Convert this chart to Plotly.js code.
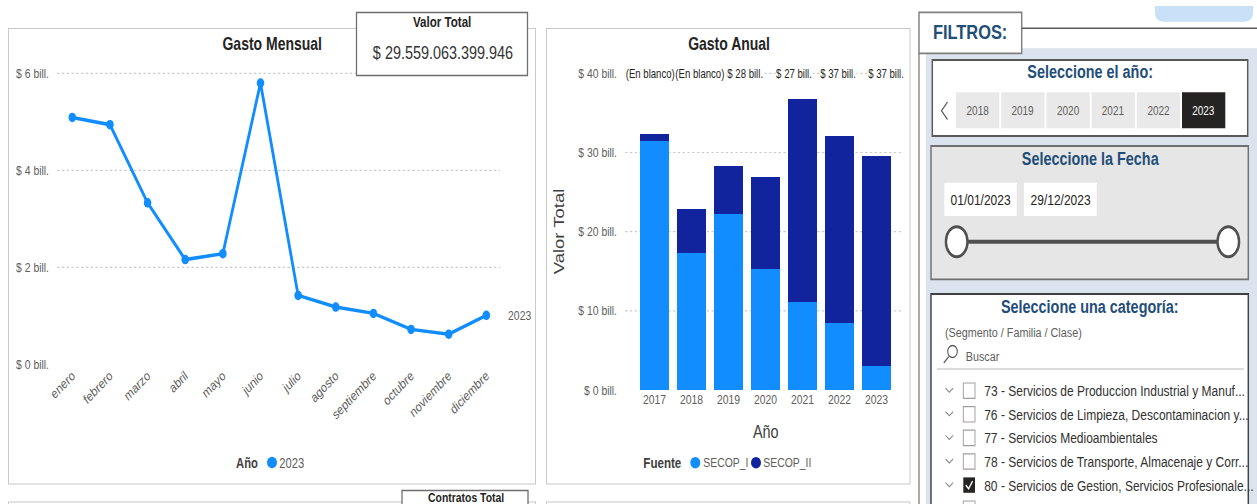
<!DOCTYPE html>
<html>
<head>
<meta charset="utf-8">
<script src="https://cdn.plot.ly/plotly-3.0.1.min.js"></script>
<style>
html,body{margin:0;padding:0;background:#fff;overflow:hidden;width:1257px;height:504px;}
#chart{height:504px;transform-origin:0 0;}
</style>
</head>
<body>
<div id="chart"></div>
<script>
// ---------- DATA ----------
const months = ['enero','febrero','marzo','abril','mayo','junio','julio','agosto','septiembre','octubre','noviembre','diciembre'];
const gastoMensual = [5.09,4.94,3.33,2.16,2.28,5.80,1.42,1.18,1.05,0.72,0.62,1.01]; // billones
const mensualTicks = [0,2,4,6];
const mensualTickText = ['$ 0 bill.','$ 2 bill.','$ 4 bill.','$ 6 bill.'];
const serieMensual = '2023';

const years = ['2017','2018','2019','2020','2021','2022','2023'];
const secopI  = [31.49,17.26,22.19,15.28,11.16,8.42,3.07];
const secopII = [0.80,5.56,6.06,11.58,25.55,23.66,26.49];
const anualTicks = [0,10,20,30,40];
const anualTickText = ['$ 0 bill.','$ 10 bill.','$ 20 bill.','$ 30 bill.','$ 40 bill.'];
const topLabels = ['(En blanco)','(En blanco)','$ 28 bill.','$ 27 bill.','$ 37 bill.','$ 37 bill.'];

const valorTotal = '$ 29.559.063.399.946';
const yearButtons = ['2018','2019','2020','2021','2022','2023'];
const selectedYear = '2023';
const fechaInicio = '01/01/2023';
const fechaFin = '29/12/2023';
const categorias = [
  '73 - Servicios de Produccion Industrial y Manuf...',
  '76 - Servicios de Limpieza, Descontaminacion y...',
  '77 - Servicios Medioambientales',
  '78 - Servicios de Transporte, Almacenaje y Corr...',
  '80 - Servicios de Gestion, Servicios Profesionale...'
];
const categoriaMarcada = [false,false,false,false,true];

// ---------- HELPERS ----------
const W = 1257, H = 504;
const RW = 1571;            // rendering width, squeezed horizontally to W
const S = W / RW;
const chartDiv = document.getElementById('chart');
chartDiv.style.width = RW + 'px';
chartDiv.style.transform = 'scaleX(' + S + ')';

const X = p => p / W;
const Y = p => 1 - p / H;
const FONT = "'Liberation Sans', Arial, sans-serif";
const DARK = '#252423', GRAY = '#605E5C', BLUE1 = '#118DFF', BLUE2 = '#12239E', TITLEBLUE = '#1F4E79';

const shapes = [];
const annotations = [];
function rect(x0,y0,x1,y1,fill,line,lw,layer){
  shapes.push({type:'rect',xref:'paper',yref:'paper',x0:X(x0),x1:X(x1),y0:Y(y1),y1:Y(y0),
    fillcolor:fill||'rgba(0,0,0,0)',line:{color:line||'rgba(0,0,0,0)',width:line?(lw||1):0},layer:layer||'above'});
}
function seg(x0,y0,x1,y1,color,lw){
  shapes.push({type:'line',xref:'paper',yref:'paper',x0:X(x0),x1:X(x1),y0:Y(y0),y1:Y(y1),line:{color:color,width:lw||1},layer:'above'});
}
function ell(cx,cy,rx,ry,fill,line,lw){
  shapes.push({type:'circle',xref:'paper',yref:'paper',x0:X(cx-rx),x1:X(cx+rx),y0:Y(cy+ry),y1:Y(cy-ry),
    fillcolor:fill,line:{color:line||'rgba(0,0,0,0)',width:line?(lw||1):0},layer:'above'});
}
function path(pts,color,lw,fill){
  let d = '';
  pts.forEach((p,i)=>{ d += (i===0?'M ':' L ') + X(p[0]) + ',' + Y(p[1]); });
  if(fill) d += ' Z';
  shapes.push({type:'path',xref:'paper',yref:'paper',path:d,line:{color:color,width:lw||1},fillcolor:fill||'rgba(0,0,0,0)',layer:'above'});
}
function ann(text,x,y,size,color,opt){
  opt = opt || {};
  annotations.push(Object.assign({text:text,xref:'paper',yref:'paper',x:X(x),y:Y(y),showarrow:false,
    xanchor:'center',yanchor:'middle',font:{family:FONT,size:size,color:color}},opt));
}

// ---------- PANELS ----------
rect(8.5,28.5,535.5,484,'#ffffff','#C8C8C8',1.2,'below');
rect(546.5,28.5,910,484,'#ffffff','#C8C8C8',1.2,'below');
rect(8.5,502,535.5,530,'#ffffff','#C8C8C8',1.2,'below');
rect(546.5,502,910,530,'#ffffff','#C8C8C8',1.2,'below');
// Valor total card
rect(356.5,12.5,527.5,75.5,'#ffffff','#6E6E6E',1.6,'above');
ann('<b>Valor Total</b>',442,22,14.5,DARK);
ann(valorTotal,443,53,18,'#333333');
// Contratos total card (cut at bottom)
rect(402,490.5,528,530,'#ffffff','#6E6E6E',1.6,'above');
ann('<b>Contratos Total</b>',466,497,13,DARK,{borderpad:0});

// Titles
ann('<b>Gasto Mensual</b>',272,44,17.5,DARK);
ann('<b>Gasto Anual</b>',729,44,17.5,DARK);

// line chart end label (tied to data)
annotations.push({text:serieMensual,xref:'x',yref:'y',x:months[months.length-1],y:gastoMensual[gastoMensual.length-1],
  showarrow:false,xanchor:'left',yanchor:'middle',xshift:20/S,font:{family:FONT,size:13,color:GRAY}});

// line legend
ann('<b>Año</b>',259,462.5,14,'#404040',{xanchor:'right'});
ell(272,462.5,5,5.8,BLUE1);
ann(serieMensual,278,462.5,14,GRAY,{xanchor:'left'});

// bar chart extras
ann('Valor Total',559,231.7,18.5,'#404040',{textangle:-90});
ann('Año',766,432,18,'#404040');
ann('<b>Fuente</b>',683,462.7,14.5,'#404040',{xanchor:'right'});
ell(695.3,462.7,5,5.8,BLUE1);
ann('SECOP_I',701.7,462.7,13,GRAY,{xanchor:'left'});
ell(756,462.7,5,5.8,BLUE2);
ann('SECOP_II',761.7,462.7,13,GRAY,{xanchor:'left'});
const topLabelX = [650.5,699.5,745.7,794.5,838.3,885.8];
topLabels.forEach((t,i)=> ann(t,topLabelX[i],73.5,12,DARK,{bgcolor:'#ffffff',borderpad:0}));

// ---------- FILTER PANEL ----------
rect(926,48.3,1257,530,'#DAE3EE',null);
seg(919,53,919,504,'#8A8A8A',1.8);
rect(919,12.3,1021.7,53.3,'#ffffff','#7F7F7F',1.8);
seg(1021.7,28.3,1257,28.3,'#595959',1.5);
ann('<b>FILTROS:</b>',970.3,31.7,20.5,TITLEBLUE);
// top-right pill
shapes.push({type:'path',xref:'paper',yref:'paper',layer:'above',line:{width:0,color:'rgba(0,0,0,0)'},fillcolor:'#C8E0F8',
  path:`M ${X(1155)},${Y(6)} L ${X(1155)},${Y(13)} Q ${X(1155)},${Y(21.7)} ${X(1165)},${Y(21.7)} L ${X(1243)},${Y(21.7)} Q ${X(1253)},${Y(21.7)} ${X(1253)},${Y(13)} L ${X(1253)},${Y(6)} Z`});

// box 1: year slicer
rect(932.3,60,1247.7,136,'#ffffff','#595959',1.8);
ann('<b>Seleccione el año:</b>',1090.5,72.5,18,TITLEBLUE);
path([[947.5,102],[941.5,110.7],[947.5,119.5]],'#605E5C',1.4);
yearButtons.forEach((yb,i)=>{
  const x0 = 956 + i*45.2, x1 = x0 + 43.3;
  const sel = yb === selectedYear;
  rect(x0,92.3,x1,128.3,sel?'#252423':'#E9E9E9',null);
  ann(yb,(x0+x1)/2,110.5,12.5,sel?'#ffffff':GRAY);
});

// box 2: date slicer
rect(931,146,1248.3,279.3,'#E6E6E6','#707070',1.8);
ann('<b>Seleccione la Fecha</b>',1090.3,158.5,18,TITLEBLUE);
rect(944.3,182.7,1016.7,216,'#ffffff',null);
rect(1024,182.7,1096.7,216,'#ffffff',null);
ann(fechaInicio,980.5,199.5,15,DARK);
ann(fechaFin,1060.3,199.5,15,DARK);
seg(957,241.7,1228,241.7,'#505050',4);
ell(956.7,241.7,10.8,15,'#ffffff','#505050',3);
ell(1228.3,241.7,10.8,15,'#ffffff','#505050',3);

// box 3: category slicer
rect(931,294,1248.3,530,'#ffffff','#404040',1.8);
ann('<b>Seleccione una categoría:</b>',1090,307,18,TITLEBLUE);
ann('(Segmento / Familia / Clase)',943.3,332.3,13.5,GRAY,{xanchor:'left'});
ell(952.5,351.5,4.8,6,'rgba(0,0,0,0)','#605E5C',1.4);
seg(948.8,356.5,943.8,363,'#605E5C',1.5);
ann('Buscar',964.3,356.7,13.5,GRAY,{xanchor:'left'});
seg(936.7,369,1244,369,'#D0D0D0',1.5);
categorias.forEach((c,i)=>{
  const cy = 390.7 + i*23.6;
  path([[945.5,cy-2.5],[949.3,cy+1.5],[953.1,cy-2.5]],'#8A8886',1.2);
  if(categoriaMarcada[i]){
    rect(963.3,cy-7.7,975,cy+7.7,'#252423',null);
    path([[965.8,cy],[968.6,cy+3.6],[972.6,cy-4]],'#ffffff',1.6);
  } else {
    rect(963.3,cy-7.7,975,cy+7.7,'#ffffff','#A19F9D',1.2);
  }
  ann(c,982.3,cy,15,'#323130',{xanchor:'left'});
});
// next row, cut by the bottom edge
path([[945.5,390.7+5*23.6-2.5],[949.3,390.7+5*23.6+1.5],[953.1,390.7+5*23.6-2.5]],'#8A8886',1.2);
rect(963.3,390.7+5*23.6-7.7,975,390.7+5*23.6+7.7,'#ffffff','#A19F9D',1.2);

// ---------- TRACES ----------
const data = [
  {type:'scatter',x:months,y:gastoMensual,mode:'lines+markers',name:serieMensual,
   line:{color:BLUE1,width:3.5},marker:{color:BLUE1,size:9.5},cliponaxis:false,
   xaxis:'x',yaxis:'y',showlegend:false,hoverinfo:'skip'},
  {type:'bar',x:years,y:secopI,name:'SECOP_I',marker:{color:BLUE1,line:{width:0}},
   xaxis:'x2',yaxis:'y2',showlegend:false,hoverinfo:'skip'},
  {type:'bar',x:years,y:secopII,name:'SECOP_II',marker:{color:BLUE2,line:{width:0}},
   xaxis:'x2',yaxis:'y2',showlegend:false,hoverinfo:'skip'}
];

const tickFont = {family:FONT,size:13,color:GRAY};
const layout = {
  width:RW,height:H,margin:{l:0,r:0,t:0,b:0},
  paper_bgcolor:'#ffffff',plot_bgcolor:'rgba(0,0,0,0)',
  showlegend:false,barmode:'stack',bargap:0.218,
  xaxis:{domain:[X(57),X(500)],type:'category',categoryorder:'array',categoryarray:months,
    range:[-0.406,11.363],tickangle:-40,tickfont:{family:FONT,size:13.5,color:GRAY},showgrid:false,zeroline:false,showline:false,ticks:'',anchor:'y',fixedrange:true},
  yaxis:{domain:[Y(364.3),Y(64)],range:[0,(364.3-64)/48.5],tickvals:mensualTicks,ticktext:mensualTickText,
    tickfont:tickFont,showgrid:true,gridcolor:'#CCCCCC',griddash:'dot',gridwidth:1.2,zeroline:false,showline:false,ticks:'',
    ticklabelstandoff:9,anchor:'x',fixedrange:true},
  xaxis2:{domain:[X(625),X(903)],type:'category',categoryorder:'array',categoryarray:years,
    range:[-0.797,6.716],tickfont:tickFont,showgrid:false,zeroline:false,showline:false,ticks:'',anchor:'y2',fixedrange:true},
  yaxis2:{domain:[Y(390),Y(64)],range:[0,40*(390-64)/(390-73.3)],tickvals:anualTicks,ticktext:anualTickText,
    tickfont:tickFont,showgrid:true,gridcolor:'#CCCCCC',griddash:'dot',gridwidth:1.2,zeroline:false,showline:false,ticks:'',
    ticklabelstandoff:9,anchor:'x2',fixedrange:true},
  shapes:shapes,
  annotations:annotations
};

Plotly.newPlot('chart',data,layout,{staticPlot:true,displayModeBar:false});
</script>
</body>
</html>
